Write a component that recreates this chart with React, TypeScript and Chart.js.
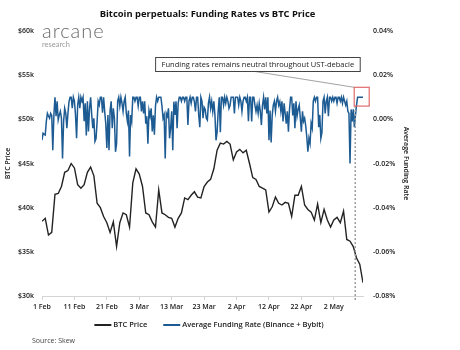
import React, { useEffect, useRef } from 'react';
import { Chart, registerables } from 'chart.js';

Chart.register(...registerables);

// ---------- data ----------
const xTickDays = [0, 10, 20, 30, 40, 50, 60, 70, 80, 90];
const xTickLabels = ['1 Feb', '11 Feb', '21 Feb', '3 Mar', '13 Mar', '23 Mar', '2 Apr', '12 Apr', '22 Apr', '2 May'];
const priceTicks = [30000, 35000, 40000, 45000, 50000, 55000, 60000];
const fundingTicks = [-0.08, -0.06, -0.04, -0.02, 0, 0.02, 0.04];

// BTC price, one value per day from 1 Feb
const btcPrice = [
  38450, 38800, 36900, 37200, 41500, 41600, 42400, 44000, 44200, 45000,
  44500, 42600, 42200, 42600, 44000, 44600, 43600, 40500, 40000, 39000,
  38300, 37200, 38400, 35600, 38300, 39400, 39200, 37800, 42800, 44400,
  43800, 42400, 39400, 39200, 38400, 37800, 42000, 39400, 39200, 38900,
  38800, 37800, 38800, 39400, 41100, 40900, 41400, 41800, 41200, 41100,
  42400, 42900, 43200, 44400, 46500, 47300, 47200, 47500, 47200, 45400,
  46300, 46600, 46200, 46500, 45000, 43400, 43200, 42400, 42200, 42000,
  39500, 40100, 41200, 40500, 40300, 40600, 40500, 39000, 41400, 41400,
  42400, 40300, 39800, 39500, 38600, 40400, 38300, 39800, 38600, 37800,
  38600, 38900, 38300, 39600, 36400, 36200, 35600, 34300, 33600, 31500,
];

// Average funding rate (%), one value every 8 hours from 1 Feb
const fundingRate = [
  -0.0094, -0.0063, -0.0068, -0.0071, -0.0009, 0.0027, 0.0015, 0.0005, 0.0027, 0.0018,
  -0.014, 0.002, 0.01, 0.0014, 0.0082, -0.0003, 0.002, 0.0036, 0.0005, -0.0177,
  -0.0009, 0.005, 0.0027, -0.004, 0.0027, 0.008, 0.01, 0.01, 0.005, 0.01,
  0.0082, 0.002, -0.0086, 0.0065, 0.01, 0.005, 0.01, 0.0082, 0.01, -0.0009,
  0.0073, -0.0073, 0.0082, -0.0055, 0.005, 0.01, 0.002, -0.004, 0.0005, -0.01,
  -0.0087, -0.0009, 0.0082, 0.0065, 0.01, 0.01, 0.003, 0.01, 0.0036, -0.002,
  -0.013, 0.002, -0.014, 0.004, 0.0082, -0.004, 0.005, 0.0005, -0.0147, -0.011,
  0.0082, 0.01, 0.006, 0.01, 0.0073, 0.0036, 0.0082, 0.01, 0.0027, -0.0009,
  0.004, -0.0168, 0.002, -0.0009, 0.01, 0.01, 0.0082, 0.01, 0.01, 0.006,
  0.01, 0.01, 0.0036, 0.0082, 0.0027, 0.0082, -0.002, 0.0014, -0.011, 0.004,
  0.0014, 0.005, -0.0055, 0.0018, -0.007, 0.006, 0.01, 0.0082, 0.01, 0.01,
  0.01, 0.006, 0.0005, 0.002, -0.0177, 0.0027, 0.0014, 0.005, -0.0086, -0.004,
  0.0036, -0.014, 0.008, 0.002, 0.0082, -0.004, 0.0073, 0.01, 0.01, 0.0082,
  0.01, 0.01, 0.0082, 0.01, 0.01, -0.0026, 0.0082, 0.01, 0.0073, 0.01,
  0.01, 0.008, 0.0036, 0.01, 0.01, 0.002, -0.0036, 0.01, 0.0082, 0.0005,
  0.0055, 0.0045, 0.0005, -0.0003, 0.0073, 0.01, 0.005, 0.0082, 0.0036, 0.0082,
  0.002, -0.0095, -0.0058, 0.0036, 0.01, -0.0058, 0.01, 0.01, 0.0064, 0.01,
  0.0073, 0.01, 0.0082, 0.005, 0.0064, 0.01, 0.01, 0.01, 0.0027, 0.01,
  0.01, 0.01, 0.0064, 0.01, 0.0082, 0.0036, 0.0082, 0.01, 0.01, 0.0082,
  0.01, -0.0009, 0.01, 0.01, -0.001, 0.01, 0.01, 0.0064, 0.0036, 0.0064,
  0.0027, 0.0073, 0.0036, -0.0026, 0.0064, 0.01, 0.0045, 0.01, 0.0027, 0.01,
  -0.0095, 0.004, -0.0105, 0.0018, 0.0064, 0.0082, 0.0036, 0.0082, 0.01, 0.0064,
  0.008, 0.0036, 0.0082, -0.001, 0.0073, 0.0027, -0.002, 0.0036, -0.0056, 0.0045,
  0.01, 0.01, 0.0018, 0.0073, -0.004, 0.0082, 0.0014, 0.0045, 0.0064, 0.0005,
  -0.0056, 0.0036, -0.0009, 0.0005, -0.003, -0.008, -0.0147, -0.0086, -0.011, -0.0018,
  -0.004, 0.0082, 0.01, 0.0082, 0.01, 0.01, -0.0036, 0.002, -0.0086, -0.006,
  0.0082, 0.01, 0.0027, 0.0082, 0.01, 0.0014, 0.01, 0.01, 0.0082, 0.01,
  0.0082, 0.01, 0.01, 0.0073, 0.01, 0.01, 0.0082, 0.01, 0.0073, 0.01,
  0.0082, 0.0064, 0.0082, 0.0036, 0.0027, -0.02, 0.0045, -0.001, 0.0045, -0.0036,
  0.0018, 0.0064, 0.01, 0.01, 0.01, 0.01, 0.01, 0.01,
];
const fundingSamplesPerDay = 3;

const seriesNames = ['BTC Price', 'Average Funding Rate (Binance + Bybit)'];
const titleText = 'Bitcoin perpetuals: Funding Rates vs BTC Price';
const annotationText = 'Funding rates remains neutral throughout UST-debacle';
const sourceText = 'Source: Skew';

// annotation anchors (data units)
const ustDebacleDay = 96.6;
const markerTop = 0.0145;
const markerBottom = 0.006;
const annotationTop = 0.028;

// ---------- styles ----------
const FONT = "'Open Sans', 'Noto Sans', sans-serif";
const PRICE_COLOR = '#232323';
const FUND_COLOR = '#1d5b93';
const TEXT_COLOR = '#1a1a1a';

const overlayPlugin = {
  id: 'overlay',
  afterDatasetsDraw(chart: any) {
    const { ctx, chartArea, scales } = chart;
    const x = scales.x.getPixelForValue(ustDebacleDay);
    const bottom = scales.yFund.getPixelForValue(markerBottom);
    ctx.save();
    ctx.strokeStyle = '#9a9a9a';
    ctx.lineWidth = 1.5;
    ctx.setLineDash([2, 2]);
    ctx.beginPath();
    ctx.moveTo(x, bottom);
    ctx.lineTo(x, chartArea.bottom + 4);
    ctx.stroke();
    ctx.restore();
  },
  afterDraw(chart: any) {
    const { ctx, chartArea, scales, height } = chart;
    const cx = (chartArea.left + chartArea.right) / 2;
    ctx.save();

    // title
    ctx.fillStyle = '#111';
    ctx.font = `bold 9.4px ${FONT}`;
    ctx.textAlign = 'center';
    ctx.textBaseline = 'middle';
    ctx.fillText(titleText, cx + 5, 14);

    // logo
    ctx.textAlign = 'left';
    ctx.textBaseline = 'alphabetic';
    ctx.fillStyle = '#6a6a6a';
    ctx.font = `300 20px Lato, ${FONT}`;
    (ctx as any).letterSpacing = '1px';
    ctx.fillText('arcane', chartArea.left, 38);
    (ctx as any).letterSpacing = '0px';
    ctx.fillStyle = '#9a9a9a';
    ctx.font = `7.5px Lato, ${FONT}`;
    ctx.fillText('research', chartArea.left, 47);

    // marker box
    const mx = scales.x.getPixelForValue(ustDebacleDay);
    const mTop = scales.yFund.getPixelForValue(markerTop);
    const mBottom = scales.yFund.getPixelForValue(markerBottom);
    ctx.strokeStyle = '#e06c6c';
    ctx.lineWidth = 1.2;
    ctx.strokeRect(mx - 1, mTop, 15, mBottom - mTop);

    // annotation box
    ctx.font = `7.5px ${FONT}`;
    const tw = ctx.measureText(annotationText).width;
    const bw = tw + 12;
    const bRight = mx + 5;
    const bLeft = bRight - bw;
    const bTop = scales.yFund.getPixelForValue(annotationTop);
    const bh = 14;
    ctx.strokeStyle = '#8a8a8a';
    ctx.lineWidth = 0.8;
    ctx.beginPath();
    ctx.moveTo(bLeft + bw / 2 - 3, bTop + bh);
    ctx.lineTo(mx - 1, mTop);
    ctx.stroke();
    ctx.fillStyle = '#fff';
    ctx.fillRect(bLeft, bTop, bw, bh);
    ctx.strokeStyle = '#444';
    ctx.lineWidth = 1;
    ctx.strokeRect(bLeft, bTop, bw, bh);
    ctx.fillStyle = '#222';
    ctx.textBaseline = 'middle';
    ctx.fillText(annotationText, bLeft + 6, bTop + bh / 2 + 0.5);

    // legend
    const ly = 325;
    ctx.font = `600 7.5px ${FONT}`;
    const sample = 17;
    const gap = 2;
    const itemGap = 16;
    const w0 = ctx.measureText(seriesNames[0]).width;
    const w1 = ctx.measureText(seriesNames[1]).width;
    const total = sample + gap + w0 + itemGap + sample + gap + w1;
    let lx = cx + 6.5 - total / 2;
    const colors = [PRICE_COLOR, FUND_COLOR];
    [w0, w1].forEach((w, i) => {
      ctx.strokeStyle = colors[i];
      ctx.lineWidth = 2;
      ctx.beginPath();
      ctx.moveTo(lx, ly);
      ctx.lineTo(lx + sample, ly);
      ctx.stroke();
      ctx.fillStyle = TEXT_COLOR;
      ctx.fillText(seriesNames[i], lx + sample + gap, ly);
      lx += sample + gap + w + itemGap;
    });

    // source
    ctx.font = `7px ${FONT}`;
    ctx.fillStyle = '#444';
    ctx.fillText(sourceText, 32, height - 9);

    ctx.restore();
  },
};

export default function App() {
  const ref = useRef<HTMLCanvasElement | null>(null);

  useEffect(() => {
    document.body.style.margin = '0';
    const canvas = ref.current;
    if (!canvas) return;
    const tickFont = { family: FONT, size: 7, weight: '600' as const };
    const chart = new Chart(canvas, {
      type: 'line',
      data: {
        datasets: [
          {
            label: seriesNames[0],
            data: btcPrice.map((v, i) => ({ x: i, y: v })),
            yAxisID: 'yPrice',
            borderColor: PRICE_COLOR,
            borderWidth: 1.4,
            pointRadius: 0,
            tension: 0,
          },
          {
            label: seriesNames[1],
            data: fundingRate.map((v, i) => ({ x: i / fundingSamplesPerDay, y: v })),
            yAxisID: 'yFund',
            borderColor: FUND_COLOR,
            borderWidth: 1.5,
            pointRadius: 0,
            tension: 0,
          },
        ],
      },
      options: {
        responsive: false,
        animation: false,
        events: [],
        layout: { padding: { top: 31, right: 50, bottom: 0, left: 0 } },
        plugins: {
          legend: { display: false },
          title: { display: false },
          tooltip: { enabled: false },
        },
        scales: {
          x: {
            type: 'linear',
            min: 0,
            max: 99,
            afterBuildTicks: (s: any) => {
              s.ticks = xTickDays.map((v) => ({ value: v }));
            },
            afterFit: (s: any) => {
              s.height = 54;
            },
            ticks: {
              autoSkip: false,
              maxRotation: 0,
              padding: 3,
              color: TEXT_COLOR,
              font: tickFont,
              callback: (v: any) => {
                const k = xTickDays.indexOf(Number(v));
                return k >= 0 ? xTickLabels[k] : '';
              },
            },
            grid: { display: true, drawOnChartArea: false, drawTicks: true, tickLength: 4, color: '#d4d4d4' },
            border: { display: true, color: '#d4d4d4' },
          },
          yPrice: {
            type: 'linear',
            position: 'left',
            min: 30000,
            max: 60000,
            afterBuildTicks: (s: any) => {
              s.ticks = priceTicks.map((v) => ({ value: v }));
            },
            afterFit: (s: any) => {
              s.width = 42;
            },
            ticks: {
              padding: 8,
              color: TEXT_COLOR,
              font: tickFont,
              callback: (v: any) => '$' + Number(v) / 1000 + 'k',
            },
            grid: { display: false, drawTicks: false },
            border: { display: false },
            title: {
              display: true,
              text: 'BTC Price',
              color: TEXT_COLOR,
              font: { family: FONT, size: 7, weight: '600' as const },
              padding: { top: 4, bottom: 0 },
            },
          },
          yFund: {
            type: 'linear',
            position: 'right',
            min: -0.08,
            max: 0.04,
            afterBuildTicks: (s: any) => {
              s.ticks = fundingTicks.map((v) => ({ value: v }));
            },
            afterFit: (s: any) => {
              s.width = 47;
            },
            ticks: {
              padding: 10,
              color: TEXT_COLOR,
              font: tickFont,
              callback: (v: any) => Number(v).toFixed(2) + '%',
            },
            grid: { display: false, drawTicks: false },
            border: { display: false },
            title: {
              display: true,
              text: 'Average Funding Rate',
              color: TEXT_COLOR,
              font: { family: FONT, size: 7, weight: '600' as const },
              padding: { top: 0, bottom: 0 },
            },
          },
        },
      },
      plugins: [overlayPlugin],
    } as any);
    return () => chart.destroy();
  }, []);

  return <canvas ref={ref} width={460} height={350} style={{ display: 'block', width: 460, height: 350 }} />;
}
